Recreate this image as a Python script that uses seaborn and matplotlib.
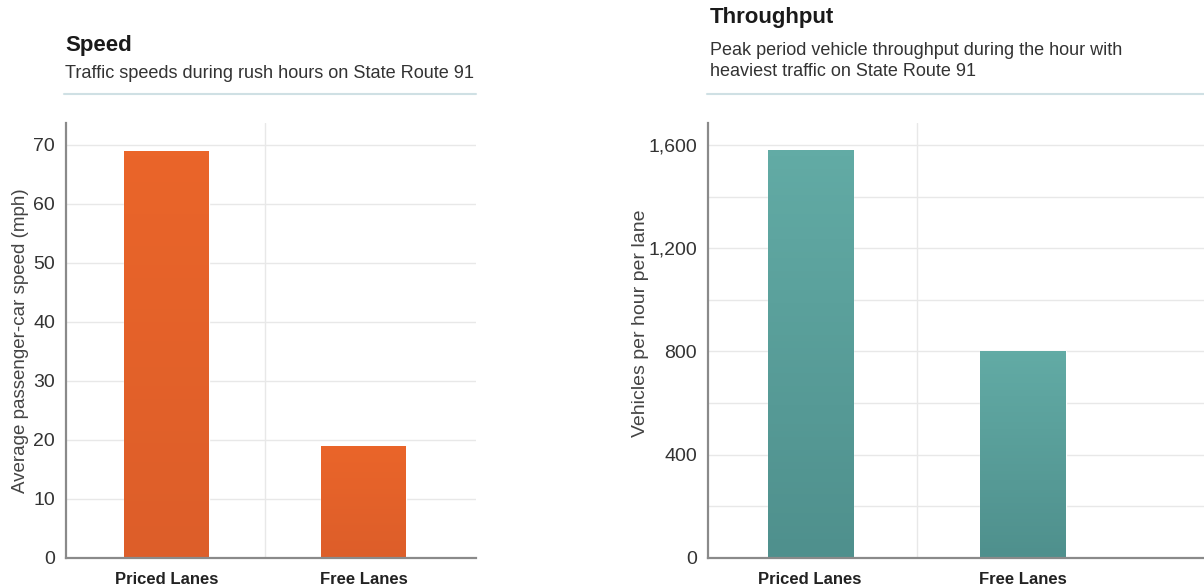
import matplotlib
matplotlib.use("Agg")
import matplotlib.pyplot as plt
import matplotlib.ticker as mticker
import numpy as np
import pandas as pd
import seaborn as sns

# ---- data ----
categories = ["Priced Lanes", "Free Lanes"]
speed_mph = [69, 19]
throughput_vph = [1580, 800]

speed_ticks = [0, 10, 20, 30, 40, 50, 60, 70]
throughput_ticks = [0, 400, 800, 1200, 1600]
throughput_minor = [200, 600, 1000, 1400]

speed_title = "Speed"
speed_sub = "Traffic speeds during rush hours on State Route 91"
speed_ylabel = "Average passenger-car speed (mph)"
thr_title = "Throughput"
thr_sub = "Peak period vehicle throughput during the hour with\nheaviest traffic on State Route 91"
thr_ylabel = "Vehicles per hour per lane"

sns.set_theme(style="white")
plt.rcParams["font.family"] = ["Liberation Sans Narrow", "Liberation Sans", "DejaVu Sans"]

fig = plt.figure(figsize=(12.04, 5.88), dpi=100)
W, H = 1204, 588

def px_axes(x0, x1, ytop, ybot):
    return fig.add_axes([x0 / W, 1 - ybot / H, (x1 - x0) / W, (ybot - ytop) / H])

ax1 = px_axes(66, 476, 123, 558)
ax2 = px_axes(708, 1204, 123, 558)

df1 = pd.DataFrame({"cat": categories, "val": speed_mph})
df2 = pd.DataFrame({"cat": categories, "val": throughput_vph})

sns.barplot(data=df1, x="cat", y="val", ax=ax1, color="#E8622A", width=0.43,
            saturation=1, zorder=3)
sns.barplot(data=df2, x="cat", y="val", ax=ax2, color="#5EA8A2", width=0.40,
            saturation=1, zorder=3)

def gradient(ax, top, bottom):
    for p in ax.patches:
        x, y = p.get_x(), p.get_y()
        w, h = p.get_width(), p.get_height()
        c1 = np.array(matplotlib.colors.to_rgb(top))
        c2 = np.array(matplotlib.colors.to_rgb(bottom))
        t = np.linspace(0, 1, 64)[:, None]
        img = (c2 * (1 - t) + c1 * t)[:, None, :]
        im = ax.imshow(img, extent=[x, x + w, y, y + h], origin="lower",
                       aspect="auto", zorder=4)
        im.set_clip_path(p)

gradient(ax1, "#EA6529", "#DD5E2A")
gradient(ax2, "#62ABA5", "#4F908D")

for ax in (ax1, ax2):
    for s in ("top", "right"):
        ax.spines[s].set_visible(False)
    for s in ("left", "bottom"):
        ax.spines[s].set_color("#8a8a8a")
        ax.spines[s].set_linewidth(1.6)
        ax.spines[s].set_zorder(5)
    ax.set_xlabel("")
    ax.tick_params(axis="both", length=0, colors="#333333", pad=8)
    ax.tick_params(axis="x", pad=10)
    ax.axvline(0.5, color="#e8e8e8", lw=1, zorder=1)
    for lab in ax.get_xticklabels():
        lab.set_fontweight("bold")
        lab.set_fontsize(12)
        lab.set_color("#222222")

ax1.set_ylim(0, 73.7)
ax1.set_xlim(-0.51, 1.57)
ax1.set_yticks(speed_ticks)
ax1.yaxis.grid(True, color="#e8e8e8", lw=1, zorder=1)
ax1.set_ylabel(speed_ylabel, fontsize=13.5, color="#444444")
ax1.yaxis.set_label_coords(-0.09, 0.5)

ax2.set_ylim(0, 1685)
ax2.set_xlim(-0.48, 1.85)
ax2.set_yticks(throughput_ticks)
ax2.set_yticks(throughput_minor, minor=True)
ax2.yaxis.set_major_formatter(mticker.StrMethodFormatter("{x:,.0f}"))
ax2.yaxis.grid(True, which="both", color="#e8e8e8", lw=1, zorder=1)
ax2.tick_params(axis="y", which="minor", length=0)
ax2.set_ylabel(thr_ylabel, fontsize=14, color="#444444")
ax2.yaxis.set_label_coords(-0.118, 0.54)

for ax in (ax1, ax2):
    for lab in ax.get_yticklabels():
        lab.set_fontsize(14)

# titles, subtitles, rules
fig.text(65 / W, 1 - 45 / H, speed_title, fontsize=16, fontweight="bold",
         color="#1a1a1a", va="center", ha="left")
fig.text(65 / W, 1 - 73 / H, speed_sub, fontsize=13.1, color="#333333",
         va="center", ha="left")
fig.add_artist(plt.Line2D([64 / W, 476 / W], [1 - 94 / H, 1 - 94 / H],
                          color="#cfe0e4", lw=1.5))

fig.text(710 / W, 1 - 18 / H, thr_title, fontsize=16, fontweight="bold",
         color="#1a1a1a", va="center", ha="left")
fig.text(710 / W, 1 - 61 / H, thr_sub, fontsize=13, color="#333333",
         va="center", ha="left", linespacing=1.3)
fig.add_artist(plt.Line2D([707 / W, 1.0], [1 - 94 / H, 1 - 94 / H],
                          color="#cfe0e4", lw=1.5))

fig.savefig("out.png", dpi=100)
